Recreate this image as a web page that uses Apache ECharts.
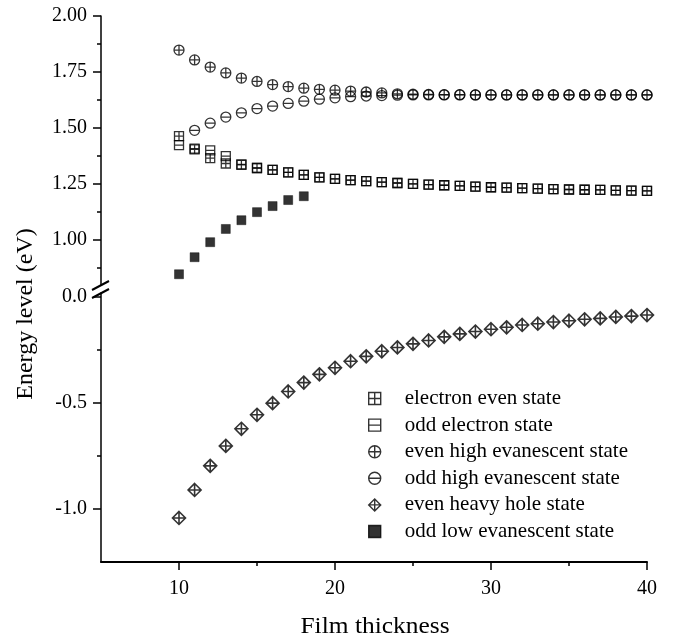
<!DOCTYPE html>
<html>
<head>
<meta charset="utf-8">
<script src="https://cdn.jsdelivr.net/npm/echarts@6/dist/echarts.min.js"></script>
<style>
  html, body { margin: 0; padding: 0; background: #fff; }
  #chart { width: 678px; height: 641px; }
</style>
</head>
<body>
<div id="chart"></div>
<script>
// film thickness (x)
const thickness = [10, 11, 12, 13, 14, 15, 16, 17, 18, 19, 20, 21, 22, 23, 24, 25,
  26, 27, 28, 29, 30, 31, 32, 33, 34, 35, 36, 37, 38, 39, 40]

// energy levels (eV)
const electronEven = [1.464, 1.405, 1.366, 1.342, 1.336, 1.322, 1.314, 1.302, 1.291, 1.280,
  1.273, 1.268, 1.263, 1.259, 1.255, 1.251, 1.248, 1.245, 1.242, 1.239, 1.236,
  1.234, 1.232, 1.230, 1.228, 1.226, 1.225, 1.224, 1.222, 1.221, 1.220]
const electronOdd = [1.424, 1.408, 1.401, 1.375, 1.338, 1.322, 1.314, 1.302, 1.291, 1.280,
  1.273, 1.268, 1.263, 1.259, 1.255, 1.251, 1.248, 1.245, 1.242, 1.239, 1.236,
  1.234, 1.232, 1.230, 1.228, 1.226, 1.225, 1.224, 1.222, 1.221, 1.220]
const highEven = [1.848, 1.804, 1.772, 1.746, 1.723, 1.708, 1.694, 1.685, 1.678, 1.673,
  1.669, 1.665, 1.661, 1.657, 1.653, 1.651, 1.650, 1.649, 1.649, 1.648, 1.648,
  1.648, 1.648, 1.648, 1.648, 1.648, 1.648, 1.648, 1.648, 1.648, 1.648]
// starts at 11
const highOdd = [1.490, 1.522, 1.549, 1.568, 1.587, 1.598, 1.610, 1.620, 1.629,
  1.635, 1.640, 1.643, 1.645, 1.647, 1.648, 1.648, 1.648, 1.648, 1.648, 1.648,
  1.648, 1.648, 1.648, 1.648, 1.648, 1.648, 1.648, 1.648, 1.648, 1.648]
const heavyHole = [-1.042, -0.910, -0.796, -0.702, -0.621, -0.555, -0.500, -0.445, -0.403, -0.364,
  -0.333, -0.302, -0.279, -0.255, -0.237, -0.220, -0.204, -0.187, -0.173, -0.162, -0.151,
  -0.142, -0.131, -0.125, -0.117, -0.111, -0.104, -0.100, -0.093, -0.089, -0.084]
// 10 .. 18 only
const lowOdd = [0.848, 0.924, 0.991, 1.050, 1.089, 1.125, 1.152, 1.179, 1.196]

const names = ['electron even state', 'odd electron state', 'even high evanescent state',
  'odd high evanescent state', 'even heavy hole state', 'odd low evanescent state']

const xTicks = [10, 20, 30, 40]
const xMinorTicks = [15, 25, 35]
const upperTicks = [1.0, 1.25, 1.5, 1.75, 2.0]
const upperMinorTicks = [0.875, 1.125, 1.375, 1.625, 1.875]
const lowerTicks = [0, -0.5, -1.0]
const lowerMinorTicks = [-0.25, -0.75]

const FONT = '"Liberation Serif", "Times New Roman", serif'

const boxPlus = 'path://M0,0L10,0L10,10L0,10Z M5,0L5,10 M0,5L10,5'
const boxMinus = 'path://M0,0L10,0L10,10L0,10Z M0,5L10,5'
const circlePlus = 'path://M0,5A5,5,0,1,1,10,5A5,5,0,1,1,0,5Z M5,0L5,10 M0,5L10,5'
const circleMinus = 'path://M0,5A5,5,0,1,1,10,5A5,5,0,1,1,0,5Z M0,5L10,5'
const diamondPlus = 'path://M5,0L10,5L5,10L0,5Z M5,0L5,10 M0,5L10,5'
const square = 'path://M0,0L10,0L10,10L0,10Z'

function pairs (xs, ys) {
  return ys.map((y, i) => [xs[i], y])
}

function hollow (width) {
  return { color: 'transparent', borderColor: '#000', borderWidth: width || 1.3 }
}

function xAxisBase (gridIndex) {
  return {
    type: 'value', gridIndex: gridIndex, min: 5, max: 40,
    splitLine: { show: false }
  }
}

function yAxisBase (gridIndex, min, max) {
  return {
    type: 'value', gridIndex: gridIndex, min: min, max: max, position: 'left',
    splitLine: { show: false }
  }
}

const labelStyle = { color: '#000', fontFamily: FONT, fontSize: 20 }

const chart = echarts.init(document.getElementById('chart'))

const option = {
  animation: false,
  backgroundColor: '#fff',
  grid: [
    { left: 101, right: 31, top: 16, height: 269 },   // 0.8 .. 2.0
    { left: 101, right: 31, top: 293, bottom: 79 }     // -1.25 .. 0.02
  ],
  xAxis: [
    Object.assign(xAxisBase(0), { show: false }),
    Object.assign(xAxisBase(1), {
      position: 'bottom',
      axisLine: { onZero: false, lineStyle: { color: '#000', width: 2 } },
      axisTick: { customValues: xTicks, length: 8, lineStyle: { color: '#000', width: 1.5 } },
      axisLabel: Object.assign({ customValues: xTicks, margin: 17 }, labelStyle)
    }),
    // minor ticks
    Object.assign(xAxisBase(1), {
      position: 'bottom',
      axisLine: { show: false, onZero: false },
      axisTick: { customValues: xMinorTicks, length: 4, lineStyle: { color: '#000', width: 1.5 } },
      axisLabel: { show: false }
    })
  ],
  yAxis: [
    Object.assign(yAxisBase(0, 0.8, 2.0), {
      axisLine: { onZero: false, lineStyle: { color: '#000', width: 1.5 } },
      axisTick: { customValues: upperTicks, length: 8, lineStyle: { color: '#000', width: 1.5 } },
      axisLabel: Object.assign({
        customValues: upperTicks, margin: 14,
        formatter: function (v) { return Number(v).toFixed(2) }
      }, labelStyle)
    }),
    Object.assign(yAxisBase(1, -1.25, 0.02), {
      axisLine: { onZero: false, lineStyle: { color: '#000', width: 1.5 } },
      axisTick: { customValues: lowerTicks, length: 8, lineStyle: { color: '#000', width: 1.5 } },
      axisLabel: Object.assign({
        customValues: lowerTicks, margin: 14,
        formatter: function (v) { return Number(v).toFixed(1) }
      }, labelStyle)
    }),
    // minor ticks
    Object.assign(yAxisBase(0, 0.8, 2.0), {
      axisLine: { show: false, onZero: false },
      axisTick: { customValues: upperMinorTicks, length: 4, lineStyle: { color: '#000', width: 1.5 } },
      axisLabel: { show: false }
    }),
    Object.assign(yAxisBase(1, -1.25, 0.02), {
      axisLine: { show: false, onZero: false },
      axisTick: { customValues: lowerMinorTicks, length: 4, lineStyle: { color: '#000', width: 1.5 } },
      axisLabel: { show: false }
    })
  ],
  legend: {
    orient: 'vertical',
    left: 363,
    top: 383,
    itemWidth: 50,
    itemHeight: 12,
    itemGap: 5.6,
    selectedMode: false,
    data: names,
    itemStyle: { borderWidth: 1.4 },
    textStyle: { color: '#000', fontFamily: FONT, fontSize: 21 }
  },
  graphic: [
    // axis break marks
    { type: 'line', shape: { x1: 92, y1: 290, x2: 109, y2: 281 }, style: { stroke: '#000', lineWidth: 2 } },
    { type: 'line', shape: { x1: 92, y1: 298, x2: 109, y2: 289 }, style: { stroke: '#000', lineWidth: 2 } },
    {
      type: 'text', x: 26, y: 314, rotation: Math.PI / 2,
      style: { text: 'Energy level (eV)', fill: '#000', font: '24px ' + FONT, align: 'center', verticalAlign: 'middle' }
    },
    {
      type: 'text', x: 375, y: 627, scaleX: 1.06,
      style: { text: 'Film thickness', fill: '#000', font: '24px ' + FONT, align: 'center', verticalAlign: 'middle' }
    }
  ],
  series: [
    {
      name: names[0], type: 'scatter', xAxisIndex: 0, yAxisIndex: 0,
      symbol: boxPlus, symbolSize: 9, symbolKeepAspect: true,
      itemStyle: hollow(), data: pairs(thickness, electronEven)
    },
    {
      name: names[1], type: 'scatter', xAxisIndex: 0, yAxisIndex: 0,
      symbol: boxMinus, symbolSize: 9, symbolKeepAspect: true,
      itemStyle: hollow(), data: pairs(thickness, electronOdd)
    },
    {
      name: names[2], type: 'scatter', xAxisIndex: 0, yAxisIndex: 0,
      symbol: circlePlus, symbolSize: 10, symbolKeepAspect: true,
      itemStyle: hollow(), data: pairs(thickness, highEven)
    },
    {
      name: names[3], type: 'scatter', xAxisIndex: 0, yAxisIndex: 0,
      symbol: circleMinus, symbolSize: 10, symbolKeepAspect: true,
      itemStyle: hollow(), data: pairs(thickness.slice(1), highOdd)
    },
    {
      name: names[4], type: 'scatter', xAxisIndex: 1, yAxisIndex: 1,
      symbol: diamondPlus, symbolSize: 13, symbolKeepAspect: true,
      itemStyle: hollow(1.6), data: pairs(thickness, heavyHole)
    },
    {
      name: names[5], type: 'scatter', xAxisIndex: 0, yAxisIndex: 0,
      symbol: square, symbolSize: 9, symbolKeepAspect: true,
      itemStyle: { color: '#000', borderColor: '#000', borderWidth: 0.5 },
      data: pairs(thickness, lowOdd)
    }
  ]
}

chart.setOption(option)
</script>
</body>
</html>
